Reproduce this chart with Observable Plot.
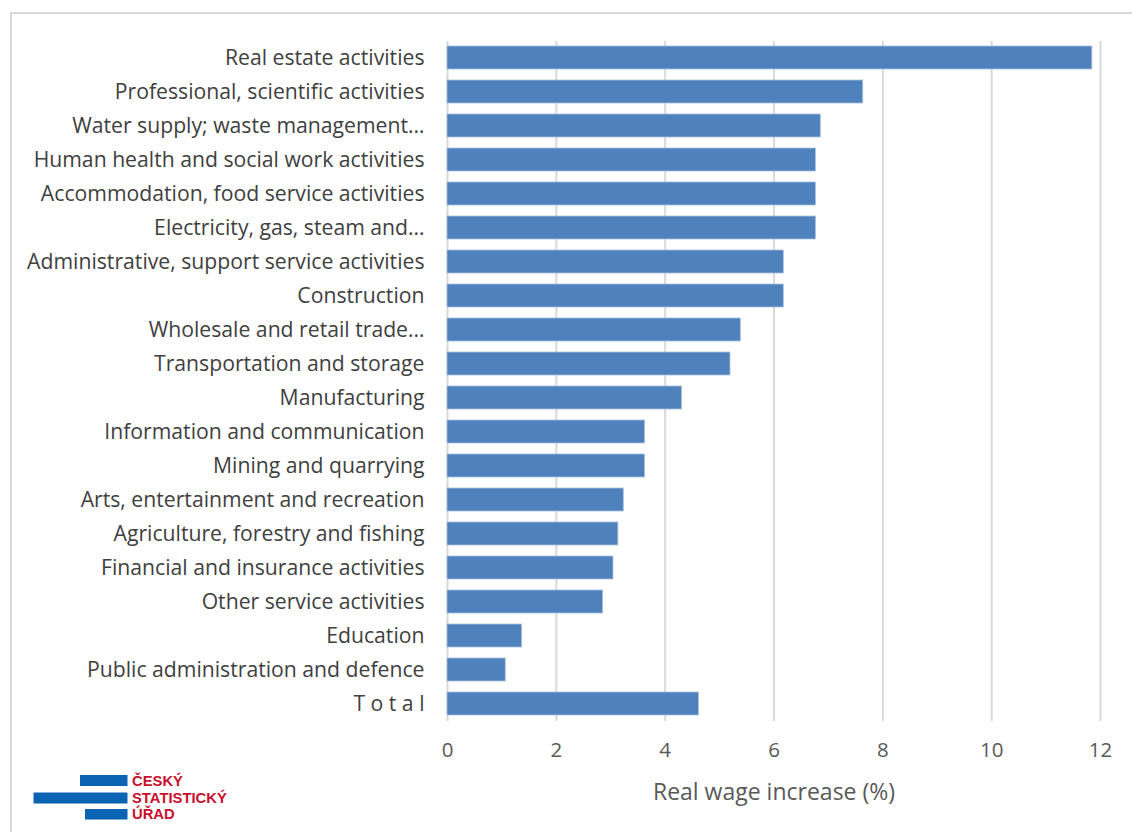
<!DOCTYPE html>
<html>
<head>
<meta charset="utf-8">
<script src="https://cdn.jsdelivr.net/npm/d3@7"></script>
<script src="https://cdn.jsdelivr.net/npm/@observablehq/plot@0.6"></script>
<style>
  html, body { margin: 0; padding: 0; background: #fff; }
  #wrap { position: relative; width: 1132px; height: 832px; overflow: hidden; background: #fff; }
  #frame { position: absolute; left: 10px; top: 12px; width: 1200px; height: 900px; border: 2px solid #d9d9d9; box-sizing: border-box; }
  #chart { position: absolute; left: 0; top: 0; }
  #logo { position: absolute; left: 0; top: 760px; }
</style>
</head>
<body>
<div id="wrap">
  <div id="frame"></div>
  <div id="chart"></div>
  <svg id="logo" width="300" height="72">
    <rect x="80" y="15" width="47.5" height="11" fill="#0b63b3"></rect>
    <rect x="33.5" y="32.5" width="94" height="11" fill="#0b63b3"></rect>
    <rect x="85" y="49" width="42.5" height="10.5" fill="#0b63b3"></rect>
    <g font-family="Liberation Sans, Arial, sans-serif" font-weight="bold" font-size="14.8" fill="#c8102e">
      <text x="132" y="25.5">ČESKÝ</text>
      <text x="132" y="42.5">STATISTICKÝ</text>
      <text x="132" y="59">ÚŘAD</text>
    </g>
  </svg>
</div>
<script>
const categories = [
  "Real estate activities",
  "Professional, scientific activities",
  "Water supply; waste management…",
  "Human health and social work activities",
  "Accommodation, food service activities",
  "Electricity, gas, steam and…",
  "Administrative, support service activities",
  "Construction",
  "Wholesale and retail trade…",
  "Transportation and storage",
  "Manufacturing",
  "Information and communication",
  "Mining and quarrying",
  "Arts, entertainment and recreation",
  "Agriculture, forestry and fishing",
  "Financial and insurance activities",
  "Other service activities",
  "Education",
  "Public administration and defence",
  "T o t a l"
];
const values = [11.85, 7.64, 6.86, 6.77, 6.77, 6.77, 6.18, 6.18, 5.39, 5.2, 4.31, 3.63, 3.63, 3.24, 3.14, 3.05, 2.86, 1.37, 1.07, 4.62];
const xTicks = [0, 2, 4, 6, 8, 10, 12];
const xLabel = "Real wage increase (%)";

const data = categories.map((c, i) => ({category: c, value: values[i]}));

const chart = Plot.plot({
  width: 1132,
  height: 832,
  marginLeft: 447,
  marginRight: 32,
  marginTop: 41,
  marginBottom: 111,
  style: {fontFamily: "'Open Sans', sans-serif", background: "transparent", overflow: "visible"},
  x: {domain: [0, 12], ticks: xTicks, label: null},
  y: {domain: categories, paddingInner: 0.32, paddingOuter: 0.16, label: null},
  marks: [
    Plot.gridX(xTicks, {stroke: "#d9d9d9", strokeOpacity: 1, strokeWidth: 2}),
    Plot.barX(data, {x: "value", y: "category", fill: "#4f81bd", stroke: "#a9c0de", strokeWidth: 0.8}),
    Plot.axisY({tickSize: 0, tickPadding: 23, fontSize: 21.2, fill: "#404040", label: null}),
    Plot.axisX(xTicks, {tickSize: 0, tickPadding: 21, fontSize: 20.5, fill: "#595959", label: null}),
    Plot.text([xLabel], {frameAnchor: "bottom", dy: 78, fontSize: 23, fill: "#595959"})
  ]
});
document.getElementById("chart").appendChild(chart);
</script>
</body>
</html>
